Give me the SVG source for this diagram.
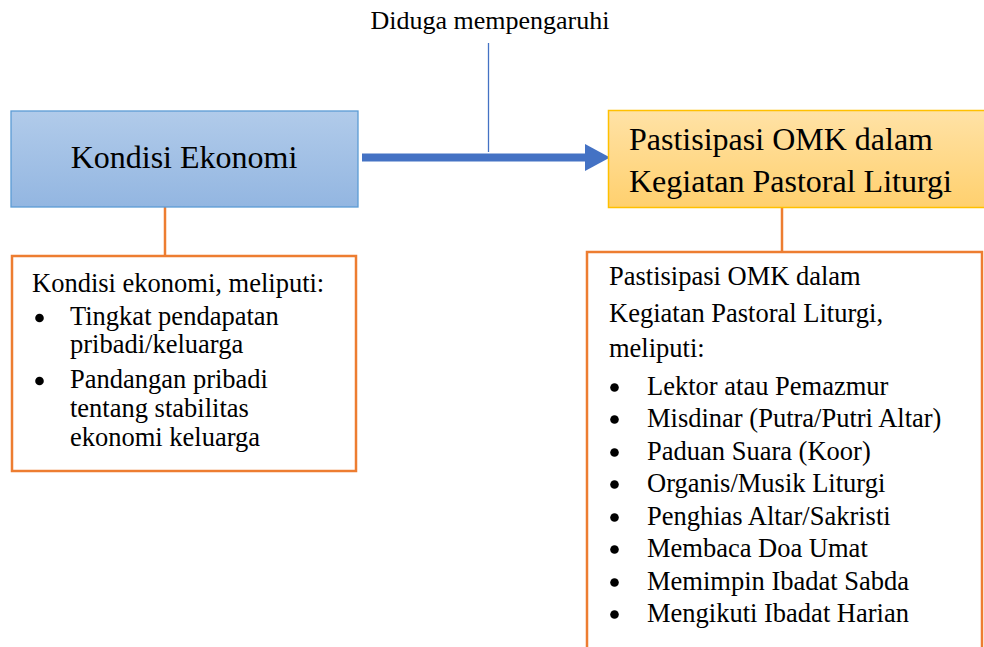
<svg xmlns="http://www.w3.org/2000/svg" width="984" height="647" viewBox="0 0 984 647">
<defs>
<linearGradient id="gBlue" x1="0" y1="0" x2="0" y2="1"><stop offset="0" stop-color="#b1cbea"/><stop offset="1" stop-color="#93b6e1"/></linearGradient>
<linearGradient id="gGold" x1="0" y1="0" x2="0" y2="1"><stop offset="0" stop-color="#ffe2a6"/><stop offset="1" stop-color="#ffd06e"/></linearGradient>
<style>
text{font-family:"Liberation Serif","Times New Roman",serif;fill:#000}
.h{font-size:32px}
.b{font-size:26.5px}
.lbl{font-size:26px}
.ob{fill:#fff;stroke:#ed7d31;stroke-width:2.5}
.oc{stroke:#ed7d31;stroke-width:2.5;fill:none}
.dot{fill:#000}
</style>
</defs>
<g id="connectors">
<line x1="362" y1="157.5" x2="587" y2="157.5" stroke="#4472c4" stroke-width="8"/>
<polygon points="585,144 610,157.5 585,171" fill="#4472c4"/>
<line x1="488.5" y1="43" x2="488.5" y2="152" stroke="#4472c4" stroke-width="1.3"/>
<line class="oc" x1="165" y1="207" x2="165" y2="256"/>
<line class="oc" x1="782" y1="208" x2="782" y2="252"/>
</g>
<g id="label-diduga">
<text class="lbl" x="490" y="29" text-anchor="middle">Diduga mempengaruhi</text>
</g>
<g id="node-kondisi">
<rect x="11" y="111" width="347" height="96" fill="url(#gBlue)" stroke="#5b9bd5" stroke-width="1.3"/>
<text class="h" x="184" y="168" text-anchor="middle">Kondisi Ekonomi</text>
</g>
<g id="node-partisipasi">
<rect x="608.5" y="110.5" width="380" height="97" fill="url(#gGold)" stroke="#ffc000" stroke-width="1.5"/>
<text class="h" x="629" y="150">Pastisipasi OMK dalam</text>
<text class="h" x="629" y="192">Kegiatan Pastoral Liturgi</text>
</g>
<g id="node-kondisi-detail">
<rect class="ob" x="12" y="256" width="344" height="215"/>
<text class="b" x="32" y="292">Kondisi ekonomi, meliputi:</text>
<circle class="dot" cx="39.5" cy="318" r="4.3"/>
<text class="b" x="70" y="325">Tingkat pendapatan</text>
<text class="b" x="70" y="353">pribadi/keluarga</text>
<circle class="dot" cx="39.5" cy="381" r="4.3"/>
<text class="b" x="70" y="388">Pandangan pribadi</text>
<text class="b" x="70" y="417">tentang stabilitas</text>
<text class="b" x="70" y="446">ekonomi keluarga</text>
</g>
<g id="node-partisipasi-detail">
<rect class="ob" x="587" y="252" width="395" height="420"/>
<text class="b" x="609" y="285">Pastisipasi OMK dalam</text>
<text class="b" x="609" y="322">Kegiatan Pastoral Liturgi,</text>
<text class="b" x="609" y="357">meliputi:</text>
<circle class="dot" cx="614.5" cy="387.5" r="4.3"/><text class="b" x="647" y="395">Lektor atau Pemazmur</text>
<circle class="dot" cx="614.5" cy="419.5" r="4.3"/><text class="b" x="647" y="427">Misdinar (Putra/Putri Altar)</text>
<circle class="dot" cx="614.5" cy="452.5" r="4.3"/><text class="b" x="647" y="460">Paduan Suara (Koor)</text>
<circle class="dot" cx="614.5" cy="484.5" r="4.3"/><text class="b" x="647" y="492">Organis/Musik Liturgi</text>
<circle class="dot" cx="614.5" cy="517.5" r="4.3"/><text class="b" x="647" y="525">Penghias Altar/Sakristi</text>
<circle class="dot" cx="614.5" cy="549.5" r="4.3"/><text class="b" x="647" y="557">Membaca Doa Umat</text>
<circle class="dot" cx="614.5" cy="582.5" r="4.3"/><text class="b" x="647" y="590">Memimpin Ibadat Sabda</text>
<circle class="dot" cx="614.5" cy="614.5" r="4.3"/><text class="b" x="647" y="622">Mengikuti Ibadat Harian</text>
</g>
</svg>
